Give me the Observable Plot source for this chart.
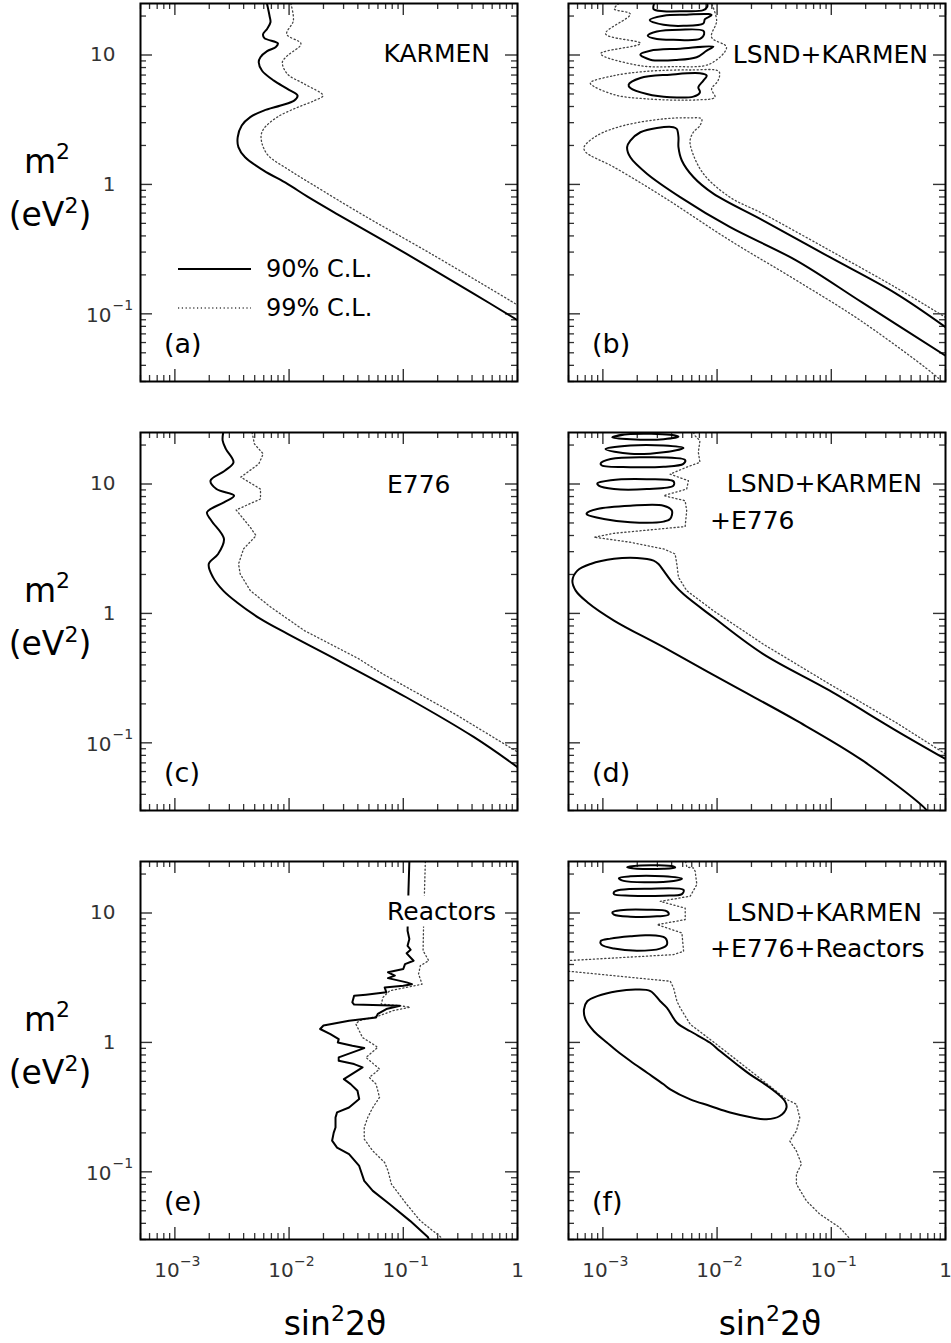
<!DOCTYPE html>
<html><head><meta charset="utf-8">
<script src="https://cdn.jsdelivr.net/npm/d3@7"></script>
<script src="https://cdn.jsdelivr.net/npm/@observablehq/plot@0.6"></script>
<style>
body{margin:0;background:#fff;}
#chart{position:relative;width:951px;height:1343px;overflow:hidden;background:#fff;}
</style></head><body><div id="chart"></div>
<script>
// ---------- axes ----------
const X_DOMAIN = [5e-4, 1];
const Y_DOMAIN = [0.03, 25];
const xMajorTicks = [1e-3, 1e-2, 1e-1, 1];
const yMajorTicks = [0.1, 1, 10];
const xTickLabels = [{v:1e-3, base:"10", exp:"\u22123"}, {v:1e-2, base:"10", exp:"\u22122"}, {v:1e-1, base:"10", exp:"\u22121"}, {v:1, base:"1", exp:""}];
const yTickLabels = [{v:10, base:"10", exp:""}, {v:1, base:"1", exp:""}, {v:0.1, base:"10", exp:"\u22121"}];
const isMajor = (t, majors) => majors.some(m => Math.abs(t - m) / m < 1e-9);
const xMinorTicks = d3.scaleLog().domain(X_DOMAIN).ticks().filter(t => !isMajor(t, xMajorTicks));
const yMinorTicks = d3.scaleLog().domain(Y_DOMAIN).ticks().filter(t => !isMajor(t, yMajorTicks));

// ---------- data: [sin^2 2theta, m^2 (eV^2)] ----------
// (a) KARMEN
const karmen90 = [[0.0064,25],[0.00674,20.1],[0.00687,17.9],[0.00642,15.9],[0.00592,14.5],[0.00608,13.5],[0.00798,12.3],[0.00762,11.5],[0.00642,10.7],[0.00561,9.6],[0.00542,8.78],[0.0058,7.56],[0.00736,6.34],[0.00967,5.47],[0.01186,4.86],[0.01107,4.44],[0.00843,4.07],[0.006,3.72],[0.00457,3.31],[0.00385,2.85],[0.00355,2.32],[0.0036,1.94],[0.00412,1.62],[0.006,1.28],[0.00967,1.01],[0.0145,0.805],[0.0268,0.585],[0.105,0.293],[0.409,0.144],[1,0.0894]];
const karmen99 = [[0.01035,25],[0.0109,18.4],[0.00953,14.5],[0.0127,12.2],[0.00967,9.88],[0.00873,8.78],[0.00967,7.13],[0.0136,5.97],[0.0198,4.86],[0.01667,4.44],[0.01186,3.94],[0.00787,3.31],[0.006,2.69],[0.00568,2.32],[0.0064,1.72],[0.0099,1.3],[0.016,1.0],[0.0445,0.58],[0.174,0.292],[0.68,0.1435],[1,0.117]];
// (b) LSND+KARMEN
const lk90Band = [[1,0.079],[0.366,0.144],[0.0962,0.275],[0.0252,0.528],[0.00927,0.848],[0.0062,1.14],[0.00491,1.53],[0.00459,1.94],[0.00459,2.32],[0.00444,2.68],[0.00415,2.77],[0.00297,2.73],[0.00213,2.53],[0.00174,2.18],[0.00163,1.94],[0.00174,1.62],[0.00243,1.21],[0.00475,0.798],[0.0129,0.469],[0.0492,0.259],[0.1875,0.122],[1,0.0475]];
const lk90Top = [[2.81e-3,25],[2.78e-3,22.6],[3.4e-3,21.8],[5.07e-3,21.8],[7.58e-3,22.2],[8.2e-3,23.6],[8.2e-3,25]];
const lk90Islands = [
  [[2.57e-3,18.6],[3.4e-3,20.1],[5.42e-3,20.5],[8.38e-3,20.7],[8.95e-3,20.3],[7.83e-3,18.9],[7.58e-3,17.5],[5.07e-3,16.8],[3.4e-3,17.1]],
  [[2.47e-3,14.1],[2.97e-3,15.2],[4.75e-3,15.7],[7.58e-3,15.4],[7.7e-3,14.5],[7.08e-3,13.3],[4.15e-3,13.1],[2.97e-3,13.3]],
  [[2.13e-3,10.1],[2.6e-3,10.8],[4.75e-3,11.2],[9.27e-3,11.6],[8.11e-3,10.8],[6.62e-3,9.6],[4.44e-3,9.15],[2.6e-3,9.2]],
  [[1.68e-3,5.9],[2.13e-3,6.65],[3.88e-3,7.05],[7.08e-3,7.22],[8.11e-3,6.93],[7.58e-3,6.34],[6.85e-3,5.63],[7.08e-3,5.15],[6.2e-3,4.77],[3.88e-3,4.72],[2.43e-3,5.0],[1.74e-3,5.57]]
];
const lk99Band = [[1,0.094],[0.366,0.16],[0.0962,0.31],[0.0252,0.594],[0.0129,0.798],[0.00758,1.21],[0.006,1.83],[0.0058,2.18],[0.0062,2.53],[0.00708,2.85],[0.00733,3.21],[0.0058,3.27],[0.0034,3.21],[0.00152,2.85],[8.93e-4,2.39],[6.84e-4,1.94],[7.06e-4,1.78],[1.25e-3,1.36],[3.4e-3,0.798],[0.0129,0.37],[0.0492,0.182],[0.1875,0.0867],[0.871,0.0317],[0.95,0.029]];
const lk99Top = [[1.38e-3,25],[1.26e-3,22.7],[1.74e-3,20.7],[1.055e-3,14.6],[2.13e-3,12.3],[9.55e-4,10.24],[2.13e-3,8.27],[4.15e-3,8.13],[8.66e-3,8.53],[1.21e-2,11.5],[8.95e-3,13.7],[9.91e-3,18.4],[8.95e-3,25]];
const lk99Loop = [[7.81e-4,6.15],[1.25e-3,6.93],[2.43e-3,7.48],[5.8e-3,7.66],[1.04e-2,7.44],[1.02e-2,6.34],[8.95e-3,5.47],[9.57e-3,4.72],[6.62e-3,4.5],[2.43e-3,4.58],[1.25e-3,4.94],[7.81e-4,5.97]];
// (c) E776
const e776_90 = [[2.65e-3,25],[2.62e-3,21.6],[2.8e-3,18.6],[3.26e-3,14.7],[2.75e-3,12.7],[2.05e-3,10.6],[2.31e-3,9.14],[3.3e-3,8.13],[2.69e-3,7.22],[1.91e-3,6.04],[2.09e-3,5.21],[2.69e-3,3.76],[2.39e-3,2.88],[1.98e-3,2.41],[2.16e-3,1.9],[2.65e-3,1.5],[3.48e-3,1.22],[5.62e-3,0.907],[9.7e-3,0.695],[2.7e-2,0.432],[0.106,0.225],[0.413,0.111],[1,0.0649]];
const e776_99 = [[4.74e-3,25],[4.97e-3,20.4],[5.93e-3,17.1],[5.43e-3,14.3],[3.78e-3,11.3],[5.62e-3,9.14],[5.62e-3,7.66],[3.44e-3,6.3],[4.58e-3,4.62],[5.14e-3,3.99],[3.99e-3,3.15],[3.61e-3,2.41],[3.73e-3,2.02],[4.58e-3,1.5],[6.89e-3,1.12],[1.36e-2,0.737],[0.04,0.45],[0.066,0.341],[0.28,0.168],[1,0.085]];
// (d) LSND+KARMEN+E776
const lke90Band = [[1,0.075],[0.366,0.125],[0.0962,0.254],[0.0252,0.487],[0.00927,0.933],[0.00507,1.41],[0.00415,1.69],[0.0034,2.14],[3.07e-3,2.41],[2.78e-3,2.56],[1.99e-3,2.68],[1.25e-3,2.64],[7.81e-4,2.41],[5.98e-4,2.14],[5.41e-4,1.79],[5.78e-4,1.5],[7.31e-4,1.22],[1.25e-3,0.881],[3.4e-3,0.548],[0.0129,0.285],[0.0492,0.149],[0.1875,0.0731],[0.667,0.0309],[0.72,0.028]];
const lke90Islands = [
  [[1.21e-3,22.9],[1.74e-3,24.3],[3.88e-3,24.0],[4.59e-3,23.2],[3.4e-3,22.2],[1.74e-3,22.2]],
  [[1.055e-3,18.6],[1.74e-3,19.8],[3.4e-3,19.8],[5.07e-3,19.0],[3.4e-3,17.6],[1.74e-3,17.1]],
  [[9.55e-4,14.4],[1.17e-3,15.6],[2.43e-3,16.1],[5.25e-3,15.3],[5.07e-3,14.3],[3.4e-3,13.6],[1.74e-3,13.5],[9.8e-4,13.9]],
  [[8.93e-4,10.1],[1.17e-3,10.7],[2.43e-3,10.9],[4.15e-3,10.5],[4.15e-3,9.71],[2.43e-3,9.14],[1.25e-3,9.14],[9.2e-4,9.71]],
  [[7.21e-4,5.93],[8.93e-4,6.41],[1.74e-3,6.8],[3.4e-3,6.8],[4.02e-3,6.22],[3.88e-3,5.37],[3.4e-3,5.12],[1.74e-3,5.06],[1.02e-3,5.37],[7.3e-4,5.79]]
];
const lke99 = [[6.2e-3,25],[6.41e-3,23.6],[7.08e-3,21.6],[6.85e-3,17.6],[7.08e-3,14.7],[5.42e-3,13.5],[3.88e-3,11.9],[5.61e-3,10.6],[5.42e-3,9.14],[4.29e-3,8.62],[3.4e-3,8.13],[5.25e-3,7.43],[5.42e-3,6.22],[5.25e-3,4.69],[1.25e-3,4.16],[8.35e-4,3.88],[1.74e-3,3.55],[3.4e-3,3.15],[4.29e-3,2.88],[4.44e-3,2.41],[4.59e-3,1.9],[5.42e-3,1.5],[0.00927,1.05],[0.0252,0.581],[0.0962,0.285],[0.366,0.144],[1,0.082]];
// (e) Reactors
const reactors90 = [[0.113,25],[0.111,14.9],[0.109,7.3],[0.113,6.29],[0.109,5.58],[0.116,5.2],[0.107,4.88],[0.123,4.28],[0.1035,4.03],[0.1,3.69],[0.0735,3.48],[0.0843,3.28],[0.0735,3.14],[0.107,2.91],[0.119,2.82],[0.1,2.74],[0.0687,2.66],[0.071,2.44],[0.0471,2.34],[0.0371,2.29],[0.0358,2.04],[0.0371,1.96],[0.0541,1.95],[0.0934,1.92],[0.071,1.81],[0.0598,1.66],[0.0578,1.56],[0.0335,1.47],[0.02,1.35],[0.0187,1.27],[0.023,1.16],[0.0272,1.06],[0.0267,1.0],[0.0358,0.942],[0.0455,0.904],[0.0272,0.766],[0.0272,0.721],[0.0371,0.68],[0.044,0.641],[0.0302,0.52],[0.0346,0.476],[0.0397,0.423],[0.0411,0.365],[0.0335,0.314],[0.0263,0.288],[0.0255,0.263],[0.0255,0.22],[0.0246,0.201],[0.0238,0.174],[0.0263,0.154],[0.0335,0.137],[0.0411,0.111],[0.0455,0.0851],[0.0541,0.0713],[0.0761,0.0562],[0.1146,0.0418],[0.164,0.0314],[0.17,0.029]];
const reactors99 = [[0.156,25],[0.151,9.25],[0.149,5.12],[0.167,4.28],[0.141,3.92],[0.136,3.38],[0.146,2.82],[0.0761,2.51],[0.0664,2.23],[0.0641,1.98],[0.0934,1.92],[0.1146,1.87],[0.0815,1.76],[0.0619,1.61],[0.0411,1.47],[0.0384,1.39],[0.0411,1.23],[0.044,1.09],[0.0541,0.971],[0.0598,0.915],[0.0471,0.766],[0.0619,0.622],[0.0504,0.536],[0.0578,0.476],[0.0619,0.376],[0.0541,0.314],[0.0488,0.263],[0.0455,0.22],[0.0455,0.179],[0.0541,0.145],[0.0687,0.118],[0.0735,0.102],[0.0787,0.0803],[0.107,0.0562],[0.141,0.0418],[0.212,0.0314],[0.22,0.029]];
// (f) LSND+KARMEN+E776+Reactors
const all90Main = [[6.83e-4,1.8],[7.3e-4,2.08],[8.93e-4,2.28],[1.33e-3,2.49],[1.99e-3,2.56],[2.61e-3,2.49],[3.18e-3,2.08],[3.64e-3,1.85],[4.45e-3,1.42],[5.82e-3,1.22],[8.69e-3,0.994],[1.06e-2,0.857],[1.49e-2,0.676],[1.94e-2,0.566],[2.9e-2,0.447],[3.92e-2,0.353],[4.05e-2,0.313],[3.54e-2,0.27],[2.71e-2,0.255],[2.07e-2,0.262],[1.3e-2,0.287],[8.69e-3,0.323],[5.82e-3,0.363],[3.89e-3,0.434],[3.4e-3,0.475],[2.44e-3,0.583],[1.74e-3,0.718],[1.33e-3,0.857],[1.09e-3,0.994],[8.35e-4,1.22],[7.06e-4,1.5]];
const all90Islands = [
  [[1.63e-3,22.6],[2.13e-3,23.3],[4.16e-3,22.9],[4.3e-3,22.5],[3.4e-3,22.0],[1.99e-3,22.0]],
  [[1.38e-3,18.6],[1.74e-3,19.2],[3.4e-3,19.2],[4.92e-3,18.4],[4.16e-3,17.7],[2.44e-3,17.3],[1.52e-3,17.7]],
  [[1.25e-3,14.5],[1.43e-3,15.1],[2.44e-3,15.4],[5.09e-3,15.1],[4.92e-3,14.0],[3.4e-3,13.6],[1.74e-3,13.6],[1.25e-3,14.0]],
  [[1.21e-3,10.1],[1.43e-3,10.5],[2.44e-3,10.6],[3.64e-3,10.3],[3.76e-3,9.71],[2.98e-3,9.42],[1.74e-3,9.37],[1.25e-3,9.71]],
  [[9.55e-4,6.05],[1.17e-3,6.34],[1.74e-3,6.61],[2.44e-3,6.73],[3.52e-3,6.41],[3.64e-3,5.7],[3.18e-3,5.31],[1.99e-3,5.12],[1.25e-3,5.31],[9.7e-4,5.7]]
];
const all99Top = [[5.3e-3,25],[5.44e-3,22.6],[6.2e-3,22.3],[6.43e-3,21.0],[6.65e-3,16.6],[5.82e-3,13.5],[3.18e-3,12.3],[5.26e-3,10.9],[5.26e-3,8.89],[2.98e-3,8.13],[4.92e-3,7.01],[5.09e-3,5.06],[4.16e-3,4.77],[5e-4,4.29]];
const all99Low = [[5e-4,3.55],[3.89e-3,2.97],[4.16e-3,2.64],[4.45e-3,2.08],[4.75e-3,1.85],[5.82e-3,1.38],[9.93e-3,0.965],[2.54e-2,0.504],[4.05e-2,0.363],[4.95e-2,0.333],[5.3e-2,0.262],[4.95e-2,0.207],[4.33e-2,0.173],[4.95e-2,0.145],[5.48e-2,0.115],[4.95e-2,0.0959],[4.95e-2,0.0803],[6.05e-2,0.0597],[7.91e-2,0.0472],[0.118,0.0372],[0.14,0.0316],[0.15,0.029]];

// ---------- panels ----------
const panels = [
  {letter:"(a)", col:0, row:0, solid:[karmen90], solidClosed:[], dotted:[karmen99], dottedClosed:[], curve:"catmull-rom", dotCurve:"catmull-rom"},
  {letter:"(b)", col:1, row:0, solid:[lk90Band, lk90Top], solidClosed:lk90Islands, dotted:[lk99Band, lk99Top], dottedClosed:[lk99Loop], curve:"catmull-rom", dotCurve:"catmull-rom"},
  {letter:"(c)", col:0, row:1, solid:[e776_90], solidClosed:[], dotted:[e776_99], dottedClosed:[], curve:"catmull-rom", dotCurve:"linear"},
  {letter:"(d)", col:1, row:1, solid:[lke90Band], solidClosed:lke90Islands, dotted:[lke99], dottedClosed:[], curve:"catmull-rom", dotCurve:"linear"},
  {letter:"(e)", col:0, row:2, solid:[reactors90], solidClosed:[], dotted:[reactors99], dottedClosed:[], curve:"linear", dotCurve:"linear"},
  {letter:"(f)", col:1, row:2, solid:[], solidClosed:[all90Main, ...all90Islands], dotted:[all99Top, all99Low], dottedClosed:[], curve:"catmull-rom", dotCurve:"linear"}
];
const titles = [
  {text:"KARMEN", x:490, y:53, anchor:"end"},
  {text:"LSND+KARMEN", x:928, y:54, anchor:"end"},
  {text:"E776", x:387, y:484, anchor:"start"},
  {text:"LSND+KARMEN", x:922, y:483, anchor:"end"},
  {text:"+E776", x:710, y:520, anchor:"start"},
  {text:"Reactors", x:387, y:911, anchor:"start", knockout:true},
  {text:"LSND+KARMEN", x:922, y:912, anchor:"end"},
  {text:"+E776+Reactors", x:710, y:948, anchor:"start"}
];
const legendItems = [{label:"90% C.L.", dotted:false}, {label:"99% C.L.", dotted:true}];

// ---------- layout ----------
const FONT = "DejaVu Sans, sans-serif";
const COLS = [140, 568], ROWS = [3, 432, 861];
const FW = 377, FH = 378;
const TICK = "#333", LABEL = "#333";
const chart = document.getElementById("chart");

const lineOpts = {x: d => d[0], y: d => d[1], clip: true, strokeLinejoin: "round"};
const solidStyle = {stroke: "#000", strokeWidth: 2};
const dotStyle = {stroke: "#444", strokeWidth: 1.3, strokeDasharray: "1.2,2.6"};

for (const p of panels) {
  const left = p.col === 0, bottom = p.row === 2;
  const mL = left ? 140 : 2, mR = 8, mT = 3, mB = bottom ? 64 : 4;
  const marks = [
    Plot.tickY(yMajorTicks, {y: d => d, insetRight: FW - 12, stroke: TICK, strokeWidth: 1.4}),
    Plot.tickY(yMajorTicks, {y: d => d, insetLeft: FW - 12, stroke: TICK, strokeWidth: 1.4}),
    Plot.tickY(yMinorTicks, {y: d => d, insetRight: FW - 6, stroke: TICK, strokeWidth: 1.3}),
    Plot.tickY(yMinorTicks, {y: d => d, insetLeft: FW - 6, stroke: TICK, strokeWidth: 1.3}),
    Plot.tickX(xMajorTicks, {x: d => d, insetBottom: FH - 12, stroke: TICK, strokeWidth: 1.4}),
    Plot.tickX(xMajorTicks, {x: d => d, insetTop: FH - 12, stroke: TICK, strokeWidth: 1.4}),
    Plot.tickX(xMinorTicks, {x: d => d, insetBottom: FH - 6, stroke: TICK, strokeWidth: 1.3}),
    Plot.tickX(xMinorTicks, {x: d => d, insetTop: FH - 6, stroke: TICK, strokeWidth: 1.3}),
  ];
  for (const d of p.dotted) marks.push(Plot.line(d, {...lineOpts, ...dotStyle, curve: p.dotCurve}));
  for (const d of p.dottedClosed) marks.push(Plot.line(d, {...lineOpts, ...dotStyle, curve: "catmull-rom-closed"}));
  for (const d of p.solid) marks.push(Plot.line(d, {...lineOpts, ...solidStyle, curve: p.curve}));
  for (const d of p.solidClosed) marks.push(Plot.line(d, {...lineOpts, ...solidStyle, curve: "catmull-rom-closed"}));
  marks.push(Plot.frame({stroke: "#000", strokeWidth: 2}));
  const tc = {fontFamily: FONT, fill: LABEL};
  if (left) {
    marks.push(Plot.text(yTickLabels.filter(d => !d.exp), {y: "v", text: "base", frameAnchor: "left", textAnchor: "end", dx: -25, fontSize: 20, ...tc}));
    marks.push(Plot.text(yTickLabels.filter(d => d.exp), {y: "v", text: "base", frameAnchor: "left", textAnchor: "end", dx: -29, dy: 2, fontSize: 20, ...tc}));
    marks.push(Plot.text(yTickLabels.filter(d => d.exp), {y: "v", text: "exp", frameAnchor: "left", textAnchor: "start", dx: -28, dy: -8, fontSize: 14, ...tc}));
  }
  if (bottom) {
    marks.push(Plot.text(xTickLabels.filter(d => d.exp), {x: "v", text: "base", frameAnchor: "bottom", dx: -8, dy: 37, fontSize: 20, ...tc}));
    marks.push(Plot.text(xTickLabels.filter(d => d.exp), {x: "v", text: "exp", frameAnchor: "bottom", textAnchor: "start", dx: 5, dy: 26, fontSize: 14, ...tc}));
    marks.push(Plot.text(xTickLabels.filter(d => !d.exp), {x: "v", text: "base", frameAnchor: "bottom", dy: 37, fontSize: 20, ...tc}));
  }
  const svg = Plot.plot({
    width: mL + FW + mR, height: mT + FH + mB,
    marginLeft: mL, marginRight: mR, marginTop: mT, marginBottom: mB,
    x: {type: "log", domain: X_DOMAIN, axis: null},
    y: {type: "log", domain: Y_DOMAIN, axis: null},
    style: {fontFamily: FONT, background: "transparent", overflow: "visible"},
    marks
  });
  svg.style.position = "absolute";
  svg.style.left = (COLS[p.col] - mL) + "px";
  svg.style.top = (ROWS[p.row] - mT) + "px";
  chart.appendChild(svg);
}

// ---------- overlay text ----------
const ov = d3.select(chart).append("svg").attr("width", 951).attr("height", 1343)
  .style("position", "absolute").style("left", "0px").style("top", "0px")
  .attr("font-family", FONT);
for (const t of titles) {
  const txt = ov.append("text").attr("x", t.x).attr("y", t.y).attr("text-anchor", t.anchor)
    .attr("dominant-baseline", "central").attr("font-size", 25).attr("fill", "#000").text(t.text);
  if (t.knockout) {
    const b = txt.node().getBBox();
    ov.insert("rect", () => txt.node()).attr("x", b.x - 4).attr("y", b.y - 1).attr("width", b.width + 7).attr("height", b.height + 2).attr("fill", "#fff");
  }
}
panels.forEach(p => {
  ov.append("text").attr("x", COLS[p.col] + 24).attr("y", ROWS[p.row] + 340).attr("dominant-baseline", "central")
    .attr("font-size", 27).attr("fill", "#000").text(p.letter);
});
ROWS.forEach(r => {
  const m = ov.append("text").attr("x", 47).attr("y", r + 170).attr("text-anchor", "middle").attr("font-size", 33);
  m.append("tspan").text("m");
  m.append("tspan").attr("font-size", 22).attr("dy", -14).text("2");
  const u = ov.append("text").attr("x", 50).attr("y", r + 223).attr("text-anchor", "middle").attr("font-size", 33);
  u.append("tspan").text("(eV");
  u.append("tspan").attr("font-size", 22).attr("dy", -13).text("2");
  u.append("tspan").attr("dy", 13).text(")");
});
COLS.forEach((c, i) => {
  const t = ov.append("text").attr("x", i === 0 ? 335 : 770).attr("y", 1335).attr("text-anchor", "middle").attr("font-size", 33);
  t.append("tspan").text("sin");
  t.append("tspan").attr("font-size", 22).attr("dy", -14).text("2");
  t.append("tspan").attr("dy", 14).text("2\u03D1");
});
legendItems.forEach((it, i) => {
  const y = ROWS[0] + 266 + i * 39;
  ov.append("line").attr("x1", COLS[0] + 38).attr("x2", COLS[0] + 111).attr("y1", y).attr("y2", y)
    .attr("stroke", it.dotted ? "#444" : "#000").attr("stroke-width", it.dotted ? 1.3 : 2)
    .attr("stroke-dasharray", it.dotted ? "1.2,2.6" : null);
  ov.append("text").attr("x", COLS[0] + 126).attr("y", y).attr("dominant-baseline", "central")
    .attr("font-size", 24).attr("fill", "#000").text(it.label);
});
</script></body></html>
